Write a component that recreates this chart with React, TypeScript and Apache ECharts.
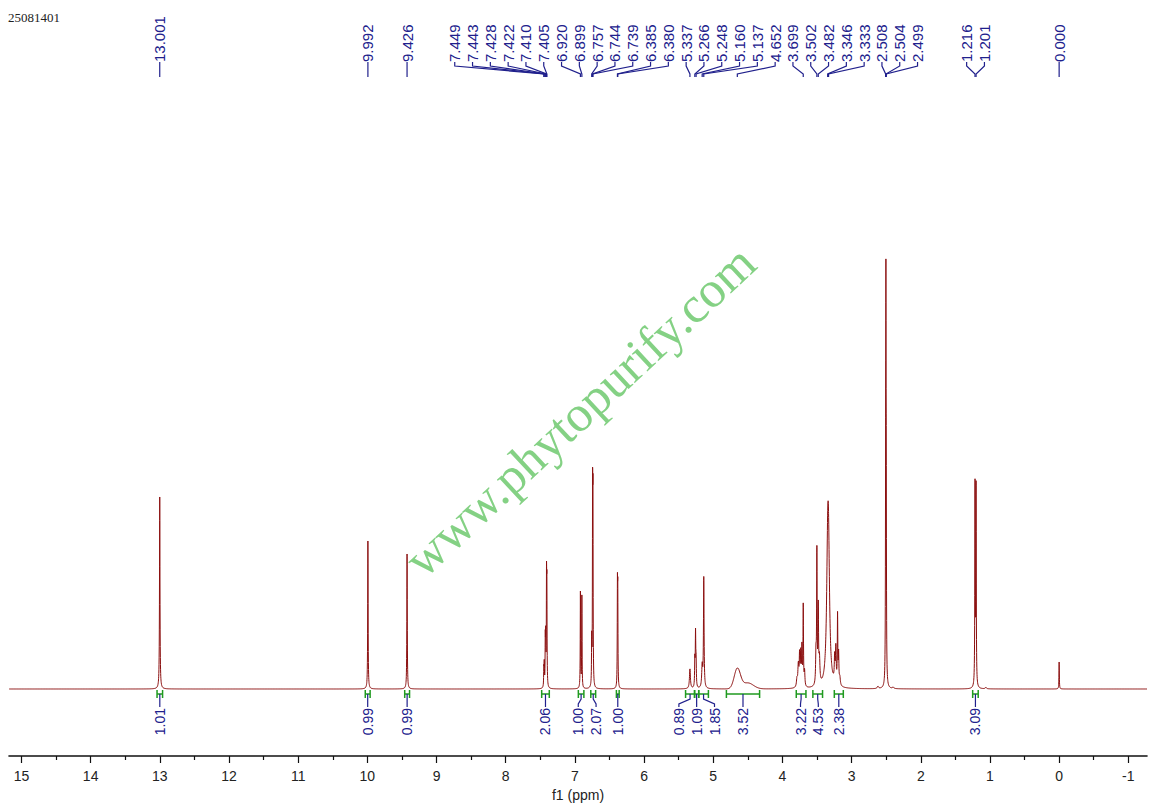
import React, { useEffect, useRef } from "react";
import * as echarts from "echarts";

const sampleId = "25081401";
const watermark = "www.phytopurify.com";

// axis range (ppm), shown reversed
const X_MIN = -1.27;
const X_MAX = 15.18;
const xTicks = [15, 14, 13, 12, 11, 10, 9, 8, 7, 6, 5, 4, 3, 2, 1, 0, -1];
const xMinorTicks = [14.5, 13.5, 12.5, 11.5, 10.5, 9.5, 8.5, 7.5, 6.5, 5.5, 4.5, 3.5, 2.5, 1.5, 0.5, -0.5];

// sharp lines: [ppm, height, half width]
const peaks: [number, number, number][] = [
  [13.001, 192, 0.004],
  [9.992, 148, 0.0035],
  [9.426, 135, 0.0035],
  [7.449, 18, 0.003],
  [7.443, 22, 0.003],
  [7.428, 45, 0.003],
  [7.422, 45, 0.003],
  [7.41, 100, 0.003],
  [7.405, 90, 0.003],
  [6.92, 96, 0.003],
  [6.899, 92, 0.003],
  [6.757, 45, 0.003],
  [6.744, 175, 0.003],
  [6.739, 168, 0.003],
  [6.385, 92, 0.003],
  [6.38, 88, 0.003],
  [5.337, 20, 0.008],
  [5.266, 26, 0.004],
  [5.256, 52, 0.004],
  [5.248, 24, 0.004],
  [5.16, 22, 0.008],
  [5.137, 110, 0.005],
  [3.79, 8, 0.008],
  [3.77, 22, 0.008],
  [3.752, 30, 0.006],
  [3.735, 32, 0.006],
  [3.718, 38, 0.005],
  [3.699, 80, 0.004],
  [3.68, 15, 0.006],
  [3.515, 30, 0.006],
  [3.502, 130, 0.004],
  [3.482, 75, 0.005],
  [3.465, 25, 0.008],
  [3.346, 108, 0.018],
  [3.333, 104, 0.018],
  [3.245, 25, 0.006],
  [3.228, 35, 0.006],
  [3.203, 68, 0.004],
  [3.188, 30, 0.005],
  [3.17, 8, 0.008],
  [2.62, 2.5, 0.01],
  [2.508, 160, 0.003],
  [2.504, 330, 0.003],
  [2.499, 160, 0.003],
  [2.4, 1.5, 0.01],
  [1.216, 200, 0.0035],
  [1.201, 198, 0.0035],
  [1.06, 1.5, 0.01],
  [0.0, 27, 0.003],
];

// broad humps: [ppm, height, sigma]
const humps: [number, number, number][] = [
  [4.652, 20, 0.045],
  [4.5, 6, 0.08],
];

const peakLabels = [
  "13.001", "9.992", "9.426",
  "7.449", "7.443", "7.428", "7.422", "7.410", "7.405",
  "6.920", "6.899", "6.757", "6.744", "6.739", "6.385", "6.380",
  "5.337", "5.266", "5.248", "5.160", "5.137", "4.652",
  "3.699", "3.502", "3.482", "3.346", "3.333",
  "2.508", "2.504", "2.499", "1.216", "1.201", "0.000",
];

const integralFrom = [13.04, 10.03, 9.46, 7.48, 6.95, 6.77, 6.4, 5.4, 5.27, 5.21, 4.81, 3.8, 3.56, 3.25, 1.25];
const integralTo = [12.96, 9.96, 9.39, 7.37, 6.87, 6.7, 6.36, 5.27, 5.21, 5.07, 4.33, 3.66, 3.42, 3.12, 1.17];
const integralValues = ["1.01", "0.99", "0.99", "2.06", "1.00", "2.07", "1.00", "0.89", "1.09", "1.85", "3.52", "3.22", "4.53", "2.38", "3.09"];

const BLUE = "#20208c";
const GREEN = "#1f9a1f";
const RED = "#8b0f0f";
const SANS = "'Liberation Sans', Arial, sans-serif";
const SERIF = "'Liberation Serif', 'Times New Roman', serif";

function buildSpectrum() {
  const xs: number[] = [];
  for (let x = X_MIN; x <= X_MAX; x += 0.0015) xs.push(x);
  peaks.forEach((p) => xs.push(p[0]));
  xs.sort((a, b) => a - b);
  return xs.map((x) => {
    let y = 0;
    for (const [c, h, w] of peaks) {
      const d = x - c;
      y += (h * w * w) / (w * w + d * d);
    }
    for (const [c, h, s] of humps) {
      const d = x - c;
      y += h * Math.exp((-d * d) / (2 * s * s));
    }
    return [x, y];
  });
}

// centre of a run of labels: halfway between mean and median of their anchors
function groupMid(centers: number[], start: number, end: number) {
  const part = centers.slice(start, end + 1);
  const mean = part.reduce((s, v) => s + v, 0) / part.length;
  const n = part.length;
  const median = n % 2 ? part[(n - 1) / 2] : (part[n / 2 - 1] + part[n / 2]) / 2;
  return (mean + median) / 2;
}

// spread label positions so neighbours keep a minimum gap
function spread(centers: number[], gap: number): number[] {
  const groups = centers.map((c, i) => ({ start: i, end: i, mid: c }));
  let merged = true;
  while (merged) {
    merged = false;
    for (let i = 0; i < groups.length - 1; i++) {
      const a = groups[i];
      const b = groups[i + 1];
      const aRight = a.mid + ((a.end - a.start) / 2) * gap;
      const bLeft = b.mid - ((b.end - b.start) / 2) * gap;
      if (bLeft - aRight < gap - 0.01) {
        groups.splice(i, 2, { start: a.start, end: b.end, mid: groupMid(centers, a.start, b.end) });
        merged = true;
        break;
      }
    }
  }
  const out: number[] = [];
  groups.forEach((g) => {
    const n = g.end - g.start + 1;
    for (let k = 0; k < n; k++) out.push(g.mid + (k - (n - 1) / 2) * gap);
  });
  return out;
}

export default function App() {
  const chartRef = useRef<HTMLDivElement>(null);

  useEffect(() => {
    document.body.style.margin = "0";
    if (!chartRef.current) return;
    const chart = echarts.init(chartRef.current, undefined, { renderer: "svg" });

    const option: any = {
      animation: false,
      grid: { left: 9, right: 5, top: 90, bottom: 52 },
      xAxis: [
        {
          type: "value",
          min: X_MIN,
          max: X_MAX,
          inverse: true,
          position: "bottom",
          axisLine: { onZero: false, lineStyle: { color: "#111", width: 1.6 } },
          axisTick: { customValues: xTicks, length: 7, lineStyle: { color: "#111", width: 1.2 } },
          axisLabel: { customValues: xTicks, margin: 13, fontSize: 14, color: "#222", fontFamily: SANS },
          splitLine: { show: false },
          name: "f1 (ppm)",
          nameLocation: "middle",
          nameGap: 27,
          nameTextStyle: { fontSize: 14, color: "#222", fontFamily: SANS },
        },
        {
          type: "value",
          min: X_MIN,
          max: X_MAX,
          inverse: true,
          position: "bottom",
          axisLine: { show: false, onZero: false },
          axisTick: { customValues: xMinorTicks, length: 4, lineStyle: { color: "#111", width: 1.2 } },
          axisLabel: { show: false },
          splitLine: { show: false },
        },
      ],
      yAxis: { type: "value", min: -67, max: 599, show: false },
      series: [
        {
          type: "line",
          data: buildSpectrum(),
          symbol: "none",
          silent: true,
          lineStyle: { color: RED, width: 1 },
        },
      ],
    };
    chart.setOption(option);

    const toPx = (v: number, y = 0) => chart.convertToPixel({ gridIndex: 0 }, [v, y]) as number[];
    const baseY = toPx(0, 0)[1];
    const elements: any[] = [];

    elements.push({
      type: "text",
      x: 8,
      y: 11,
      style: { text: sampleId, fontSize: 13, fontFamily: SERIF, fill: "#222", align: "left", verticalAlign: "top" },
    });

    // peak labels at the top
    const peakPx = peakLabels.map((t) => toPx(parseFloat(t))[0]);
    const labelPx = spread(peakPx, 17.8);
    peakLabels.forEach((t, i) => {
      const lx = labelPx[i];
      const px = peakPx[i];
      elements.push({
        type: "text",
        x: lx,
        y: 62,
        rotation: Math.PI / 2,
        style: { text: t, fontSize: 15, fontFamily: SANS, fill: BLUE, align: "left", verticalAlign: "middle" },
      });
      const pts = Math.abs(lx - px) < 0.5
        ? [[px, 62], [px, 77]]
        : [[lx, 62], [lx, 66], [px, 74], [px, 77]];
      elements.push({
        type: "polyline",
        shape: { points: pts },
        style: { stroke: BLUE, lineWidth: 1.2, fill: null },
      });
    });

    // integrals below the baseline
    const brY = baseY + 5;
    const brMid = integralFrom.map((f, i) => (toPx(f)[0] + toPx(integralTo[i])[0]) / 2);
    const intLabelPx = spread(brMid, 17.8);
    integralValues.forEach((v, i) => {
      const x1 = toPx(integralFrom[i])[0];
      const x2 = toPx(integralTo[i])[0];
      elements.push({
        type: "polyline",
        shape: { points: [[x1, brY], [x2, brY]] },
        style: { stroke: GREEN, lineWidth: 1.5, fill: null },
      });
      [x1, x2].forEach((xx) =>
        elements.push({
          type: "line",
          shape: { x1: xx, y1: brY - 4, x2: xx, y2: brY + 4 },
          style: { stroke: GREEN, lineWidth: 1.5 },
        })
      );
      const cx = brMid[i];
      const lx = intLabelPx[i];
      const pts = Math.abs(lx - cx) < 0.5
        ? [[cx, brY], [cx, brY + 13]]
        : [[cx, brY], [cx, brY + 5], [lx, brY + 10], [lx, brY + 13]];
      elements.push({
        type: "polyline",
        shape: { points: pts },
        style: { stroke: BLUE, lineWidth: 1.2, fill: null },
      });
      elements.push({
        type: "text",
        x: lx,
        y: brY + 14,
        rotation: Math.PI / 2,
        style: { text: v, fontSize: 14, fontFamily: SANS, fill: BLUE, align: "right", verticalAlign: "middle" },
      });
    });

    elements.push({
      type: "text",
      x: 580,
      y: 411,
      rotation: (43 * Math.PI) / 180,
      z: 10,
      style: { text: watermark, fontSize: 51, fontFamily: SERIF, fill: "#84d184", align: "center", verticalAlign: "middle" },
    });

    chart.setOption({ graphic: elements });

    return () => chart.dispose();
  }, []);

  return <div ref={chartRef} style={{ width: 1152, height: 808 }} />;
}
